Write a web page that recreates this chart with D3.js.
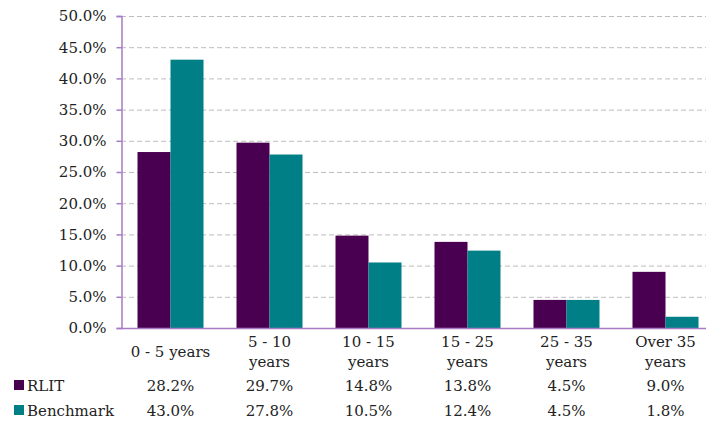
<!DOCTYPE html>
<html><head><meta charset="utf-8">
<script src="https://cdn.jsdelivr.net/npm/d3@7/dist/d3.min.js"></script>
<style>body{margin:0;background:#fff}text{font-family:Georgia,"DejaVu Serif","Liberation Serif",serif;fill:#222}</style>
</head><body><svg id="c" width="706" height="423"></svg>
<script>
const categories = [["0 - 5 years"],["5 - 10","years"],["10 - 15","years"],["15 - 25","years"],["25 - 35","years"],["Over 35","years"]];
const seriesNames = ["RLIT","Benchmark"];
const rlit = [28.2,29.7,14.8,13.8,4.5,9.0];
const benchmark = [43.0,27.8,10.5,12.4,4.5,1.8];
const colors = ["#4A0050","#007F87"];
const yTicks = [0,5,10,15,20,25,30,35,40,45,50];

const svg = d3.select("#c");
const x0 = 121, y0 = 328, yTop = 16, step = 99;
const x = d3.scaleBand().domain(d3.range(categories.length)).range([x0, x0+step*categories.length]).paddingInner(0.3333).paddingOuter(0.16667);
const xs = d3.scaleBand().domain([0,1]).range([0, x.bandwidth()]);
const y = d3.scaleLinear().domain([0,50]).range([y0,yTop]);

// gridlines
svg.append("g").selectAll("line").data(yTicks.filter(d=>d>0)).join("line")
  .attr("x1",x0).attr("x2",706).attr("y1",d=>y(d)+0.5).attr("y2",d=>y(d)+0.5)
  .attr("stroke","#BDBDBD").attr("stroke-dasharray","5,3").attr("stroke-width",1);

// bars
const series = [rlit, benchmark];
series.forEach((vals,si)=>{
  svg.append("g").selectAll("rect").data(vals).join("rect")
    .attr("x",(d,i)=>x(i)+xs(si)).attr("width",xs.bandwidth())
    .attr("y",d=>y(d)).attr("height",d=>y(0)-y(d))
    .attr("fill",colors[si]);
});

// y axis
const yAxis = d3.axisLeft(y).tickValues(yTicks).tickFormat(d=>d.toFixed(1)+"%").tickSize(5).tickPadding(10);
const ga = svg.append("g").attr("transform",`translate(${x0+0.5},0)`).call(yAxis);
ga.select(".domain").attr("stroke","#A77BC6").attr("stroke-width",1.5);
ga.selectAll(".tick line").attr("stroke","#A77BC6").attr("stroke-width",1.5);
ga.selectAll(".tick text").attr("font-size",15).attr("font-family",'Georgia,"DejaVu Serif","Liberation Serif",serif').attr("fill","#222");

// x baseline
svg.append("line").attr("x1",x0).attr("x2",706).attr("y1",y0+0.5).attr("y2",y0+0.5).attr("stroke","#A77BC6").attr("stroke-width",1.5);

// category labels
categories.forEach((lines,i)=>{
  const cx = x(i)+x.bandwidth()/2;
  const t = svg.append("text").attr("text-anchor","middle").attr("font-size",15);
  if(lines.length===1){
    t.append("tspan").attr("x",cx).attr("y",357).text(lines[0]);
  } else {
    lines.forEach((l,j)=>t.append("tspan").attr("x",cx).attr("y",347+j*20).text(l));
  }
});

// data table
const rowY = [391,416];
series.forEach((vals,si)=>{
  svg.append("rect").attr("x",14).attr("y",rowY[si]-11).attr("width",10).attr("height",10).attr("fill",colors[si]);
  svg.append("text").attr("x",27).attr("y",rowY[si]).attr("font-size",15).text(seriesNames[si]);
  svg.append("g").selectAll("text").data(vals).join("text")
    .attr("x",(d,i)=>x(i)+x.bandwidth()/2).attr("y",rowY[si]).attr("text-anchor","middle").attr("font-size",15)
    .text(d=>d.toFixed(1)+"%");
});
</script></body></html>
